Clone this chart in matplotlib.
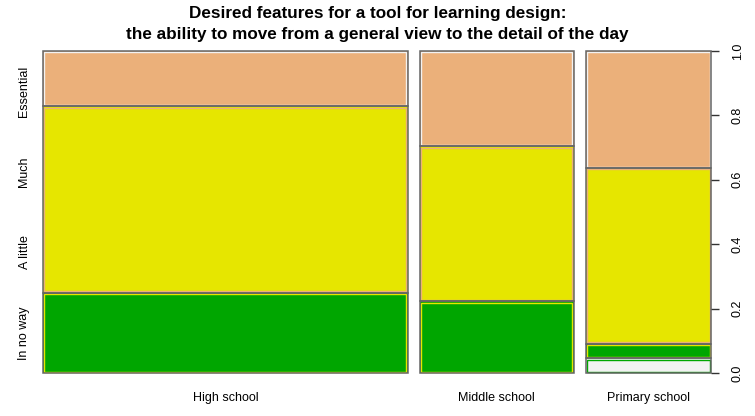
import numpy as np
import matplotlib
matplotlib.use('Agg')
import matplotlib.pyplot as plt
from matplotlib.patches import Rectangle

plt.rcParams['font.family'] = ['Liberation Sans', 'DejaVu Sans']

# answer levels, bottom to top
livelli = ['In no way', 'A little', 'Much', 'Essential']
scuole = ['High school', 'Middle school', 'Primary school']
# counts per school (In no way, A little, Much, Essential)
high = [0, 16, 37, 11]
middle = [0, 6, 13, 8]
primary = [1, 1, 12, 8]
conteggi = [high, middle, primary]
colori = ['#F2F2F2', '#00A600', '#E6E600', '#EBB07A']
y_ticks = [0.0, 0.2, 0.4, 0.6, 0.8, 1.0]

fig = plt.figure(figsize=(7.55, 4.16), dpi=100)
ax = fig.add_axes([43/755, 43/416, (711-43)/755, (373-51)/416])

gap = 2.1  # gap between columns, in count units
totale = sum(sum(r) for r in conteggi) + gap * (len(conteggi) - 1)
# inset of the inner coloured border, ~1.3 px
dx = 1.3 * totale / 668
dy = 1.3 / 322

x0 = 0
centri = []
for riga in conteggi:
    n = sum(riga)
    prop = np.array(riga) / n
    basso = 0
    for i, p in enumerate(prop):
        if p > 0:
            bordo = colori[(i + 1) % len(colori)]
            ax.add_patch(Rectangle((x0, basso), n, p, facecolor=colori[i],
                                   edgecolor='none', zorder=2, clip_on=False))
            ax.add_patch(Rectangle((x0 + dx, basso + dy), n - 2*dx, p - 2*dy, fill=False,
                                   edgecolor=bordo, linewidth=1.0, zorder=3, clip_on=False))
            ax.add_patch(Rectangle((x0, basso), n, p, fill=False, clip_on=False,
                                   edgecolor='#666666', linewidth=1.1, zorder=4))
        basso += p
    centri.append(x0 + n / 2)
    x0 += n + gap

ax.set_xlim(0, totale)
ax.set_ylim(0, 1)
for s in ax.spines.values():
    s.set_visible(False)

ax.set_xticks(centri)
ax.set_xticklabels(scuole, fontsize=9)
ax.tick_params(axis='x', length=0, pad=14)

ax.set_yticks([(i + 0.5) / len(livelli) for i in range(len(livelli))])
ax.set_yticklabels(livelli, rotation=90, va='center', fontsize=9)
ax.tick_params(axis='y', length=0, pad=9)

ax2 = ax.twinx()
ax2.set_ylim(0, 1)
for s in ax2.spines.values():
    s.set_visible(False)
ax2.set_yticks(y_ticks)
ax2.set_yticklabels([f'{v:.1f}' for v in y_ticks], rotation=90, va='center', fontsize=9)
ax2.tick_params(axis='y', length=6, width=1, color='#333333', pad=9)

fig.suptitle('Desired features for a tool for learning design:\n'
             'the ability to move from a general view to the detail of the day',
             fontsize=12.3, fontweight='bold', y=0.985, linespacing=1.48)

fig.savefig('out.png', dpi=100)
